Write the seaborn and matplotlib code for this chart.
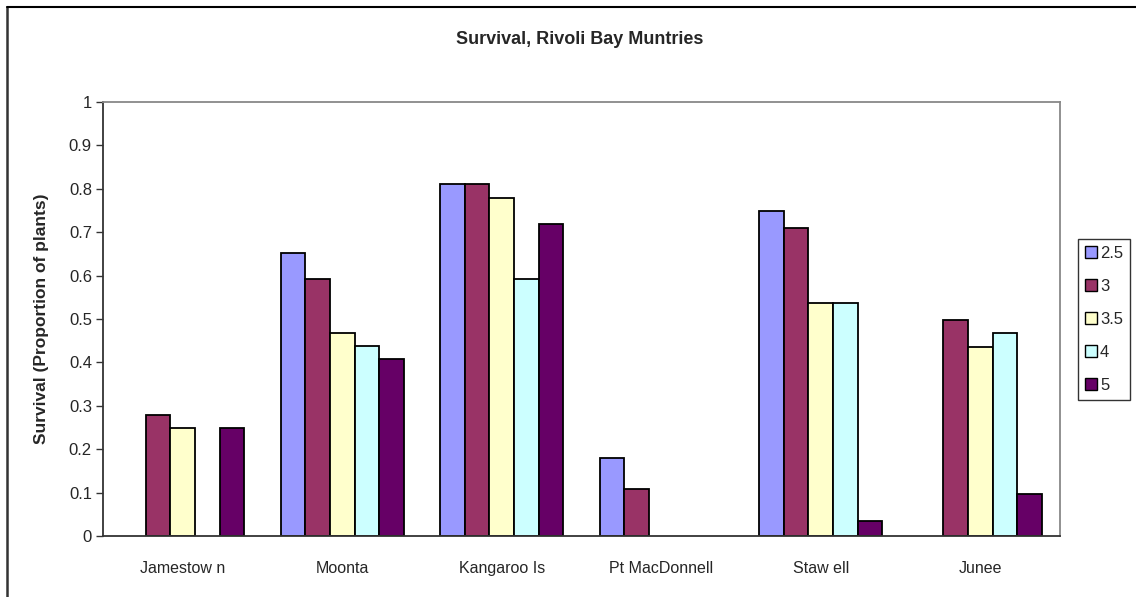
import numpy as np
import pandas as pd
import matplotlib
matplotlib.use("Agg")
import matplotlib.pyplot as plt
from matplotlib.lines import Line2D
import seaborn as sns

sites = ["Jamestow n", "Moonta", "Kangaroo Is", "Pt MacDonnell", "Staw ell", "Junee"]
sizes = ["2.5", "3", "3.5", "4", "5"]
s25 = [np.nan, 0.653, 0.811, 0.179, 0.750, np.nan]
s3 = [0.278, 0.592, 0.811, 0.108, 0.710, 0.497]
s35 = [0.250, 0.467, 0.779, np.nan, 0.536, 0.435]
s4 = [np.nan, 0.437, 0.592, np.nan, 0.536, 0.467]
s5 = [0.250, 0.407, 0.718, np.nan, 0.034, 0.097]
colors = ["#9999FF", "#993366", "#FFFFCC", "#CCFFFF", "#660066"]
yticks = [0, 0.1, 0.2, 0.3, 0.4, 0.5, 0.6, 0.7, 0.8, 0.9, 1]
ytick_labels = ["0", "0.1", "0.2", "0.3", "0.4", "0.5", "0.6", "0.7", "0.8", "0.9", "1"]

rows = []
for size, vals in zip(sizes, [s25, s3, s35, s4, s5]):
    for site, v in zip(sites, vals):
        rows.append({"site": site, "size": size, "val": v})
df = pd.DataFrame(rows)

sns.set_style("white")
plt.rcParams["font.family"] = ["Liberation Sans", "DejaVu Sans"]

W, H = 1136, 597
fig = plt.figure(figsize=(W / 100, H / 100), dpi=100)
ax = fig.add_axes([103 / W, 1 - 536 / H, (1060 - 103) / W, (536 - 102) / H])

sns.barplot(data=df.dropna(), x="site", y="val", hue="size", order=sites,
            hue_order=sizes, palette=colors, width=5 / 6.5, gap=0,
            edgecolor="black", linewidth=1.3, saturation=1, ax=ax,
            errorbar=None, legend=False)

ax.set_xlim(-0.5, 5.5)
ax.set_ylim(0, 1)
ax.set_yticks(yticks)
ax.set_yticklabels(ytick_labels, fontsize=12)
ax.set_xticks(range(len(sites)))
ax.set_xticklabels(sites, fontsize=11.5)
ax.tick_params(axis="x", which="major", length=0, pad=18)
ax.set_xticks(np.arange(-0.5, 6, 1), minor=True)
ax.tick_params(axis="x", which="minor", length=5, width=1, color="#333333", direction="out")
ax.tick_params(axis="y", length=5, width=1, color="#333333", direction="out", pad=3, left=True)
ax.set_xlabel("")
ax.set_ylabel("Survival (Proportion of plants)", fontsize=12.5, fontweight="bold", labelpad=14)

for side in ["top", "right"]:
    ax.spines[side].set_visible(True)
    ax.spines[side].set_color("#888888")
    ax.spines[side].set_linewidth(1.3)
for side in ["left", "bottom"]:
    ax.spines[side].set_color("#333333")
    ax.spines[side].set_linewidth(1.3)

fig.text(580 / W, 1 - 40 / H, "Survival, Rivoli Bay Muntries", ha="center", va="center",
         fontsize=13, fontweight="bold")

handles = [plt.Rectangle((0, 0), 1, 1, facecolor=c, edgecolor="black", linewidth=1) for c in colors]
leg = fig.legend(handles, sizes, loc="upper left", bbox_to_anchor=(1078 / W, 1 - 239 / H),
                 frameon=True, fancybox=False, edgecolor="black", fontsize=12,
                 handlelength=0.7, handleheight=0.75, handletextpad=0.2,
                 labelspacing=1.08, borderpad=0.42, borderaxespad=0)
leg.get_frame().set_linewidth(1.0)

fig.add_artist(Line2D([7 / W, 7 / W], [0, 1 - 7 / H], transform=fig.transFigure, color="#333333", linewidth=1.8))
fig.add_artist(Line2D([7 / W, 1], [1 - 7 / H, 1 - 7 / H], transform=fig.transFigure, color="black", linewidth=1.5))

fig.savefig("out.png", dpi=100)
